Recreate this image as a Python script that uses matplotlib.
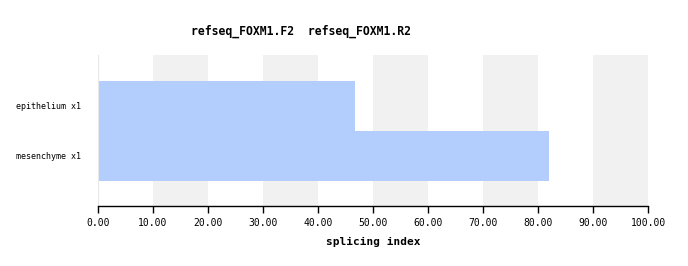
import matplotlib
matplotlib.use("Agg")
import matplotlib.pyplot as plt

# data
samples = ["epithelium x1", "mesenchyme x1"]
values = [46.7, 82.0]
ticks = [0, 10, 20, 30, 40, 50, 60, 70, 80, 90, 100]
title = "refseq_FOXM1.F2  refseq_FOXM1.R2"

plt.rcParams['font.family'] = ['DejaVu Sans Mono']

fig = plt.figure(figsize=(6.88, 2.66), dpi=100)
ax = fig.add_axes([98/688, 1-206/266, 550/688, 151/266])

# alternating background bands
for i in range(1, len(ticks)-1, 2):
    ax.axvspan(ticks[i], ticks[i+1], color='#f1f1f1', lw=0, zorder=0)

ypos = list(range(len(samples)))
ax.barh(ypos, values, height=1.0, color='#b3cdfd', zorder=2)

ax.set_xlim(0, 100)
ax.set_ylim(len(samples) - 0.5 + 0.51, -0.5 - 0.52)
ax.set_yticks(ypos)
ax.set_yticklabels(samples, fontsize=6)
ax.tick_params(axis='y', length=0, pad=12)
ax.set_xticks(ticks)
ax.set_xticklabels(["%.2f" % t for t in ticks], fontsize=7)
ax.tick_params(axis='x', length=5, width=1, pad=4)

for s in ['top', 'right']:
    ax.spines[s].set_visible(False)
ax.spines['left'].set_color('#e8e8e8')
ax.spines['bottom'].set_linewidth(1)

ax.set_xlabel("splicing index", fontsize=8, fontweight='bold', labelpad=6)
fig.text(301/688, 1-31/266, title, fontsize=8.3, fontweight='bold', ha='center', va='center')

fig.savefig("out.png", dpi=100)
